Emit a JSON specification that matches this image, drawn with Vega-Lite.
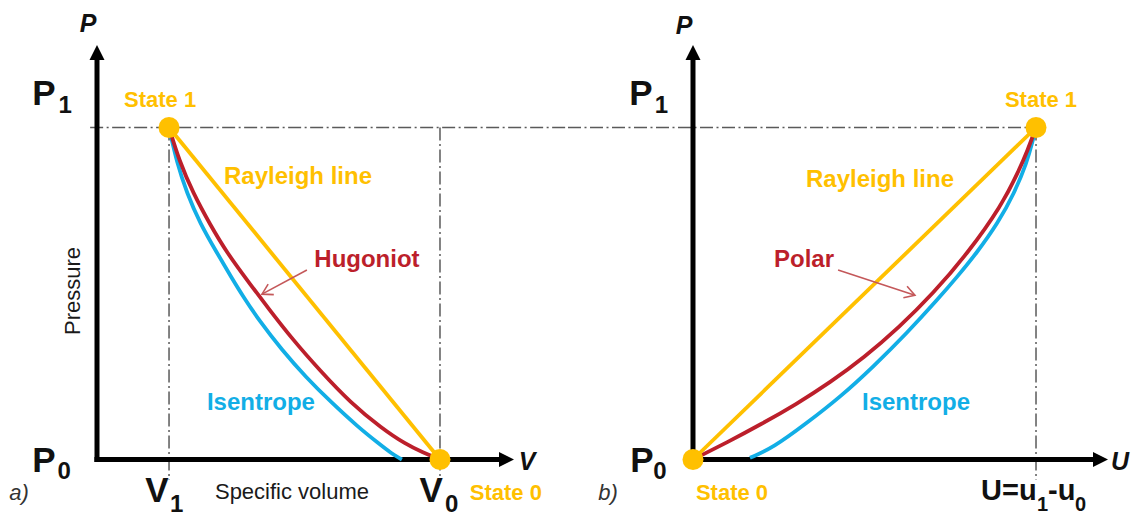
{
  "$schema": "https://vega.github.io/schema/vega-lite/v6.json",
  "background": "white",
  "padding": 0,
  "spacing": 0,
  "bounds": "flush",
  "resolve": {"scale": {"x": "independent", "y": "independent", "color": "independent"}},
  "config": {"view": {"stroke": null}, "text": {"font": "Liberation Sans"}},
  "datasets": {
    "left_guides": [
      {"v": -0.02, "p": 1, "v2": 1.3732, "p2": 1},
      {"v": 0.21, "p": 1, "v2": 0.21, "p2": -0.062},
      {"v": 1, "p": 1, "v2": 1, "p2": -0.062}
    ],
    "left_axes": [
      {"v": 0, "p": -0.0075, "v2": 0, "p2": 1.209},
      {"v": -0.0075, "p": 0, "v2": 1.181, "p2": 0}
    ],
    "left_arrowheads": [
      {"axis": "P", "v": 0, "p": 1.2485},
      {"axis": "V", "v": 1.2157, "p": 0}
    ],
    "left_curves": [
      {"curve": "Isentrope", "v": 0.21, "p": 1},
      {"curve": "Isentrope", "v": 0.233, "p": 0.893},
      {"curve": "Isentrope", "v": 0.262, "p": 0.803},
      {"curve": "Isentrope", "v": 0.3, "p": 0.712},
      {"curve": "Isentrope", "v": 0.35, "p": 0.622},
      {"curve": "Isentrope", "v": 0.391, "p": 0.55},
      {"curve": "Isentrope", "v": 0.429, "p": 0.486},
      {"curve": "Isentrope", "v": 0.472, "p": 0.42},
      {"curve": "Isentrope", "v": 0.539, "p": 0.33},
      {"curve": "Isentrope", "v": 0.609, "p": 0.248},
      {"curve": "Isentrope", "v": 0.685, "p": 0.17},
      {"curve": "Isentrope", "v": 0.761, "p": 0.098},
      {"curve": "Isentrope", "v": 0.819, "p": 0.05},
      {"curve": "Isentrope", "v": 0.86, "p": 0.017},
      {"curve": "Isentrope", "v": 0.889, "p": 0},
      {"curve": "Hugoniot", "v": 0.21, "p": 1},
      {"curve": "Hugoniot", "v": 0.24, "p": 0.899},
      {"curve": "Hugoniot", "v": 0.28, "p": 0.803},
      {"curve": "Hugoniot", "v": 0.33, "p": 0.707},
      {"curve": "Hugoniot", "v": 0.38, "p": 0.621},
      {"curve": "Hugoniot", "v": 0.44, "p": 0.537},
      {"curve": "Hugoniot", "v": 0.5, "p": 0.455},
      {"curve": "Hugoniot", "v": 0.57, "p": 0.362},
      {"curve": "Hugoniot", "v": 0.65, "p": 0.268},
      {"curve": "Hugoniot", "v": 0.74, "p": 0.17},
      {"curve": "Hugoniot", "v": 0.83, "p": 0.094},
      {"curve": "Hugoniot", "v": 0.9, "p": 0.046},
      {"curve": "Hugoniot", "v": 0.95, "p": 0.021},
      {"curve": "Hugoniot", "v": 1, "p": 0},
      {"curve": "Rayleigh line", "v": 0.21, "p": 1},
      {"curve": "Rayleigh line", "v": 1, "p": 0}
    ],
    "left_states": [
      {"state": "State 1", "v": 0.21, "p": 1},
      {"state": "State 0", "v": 1, "p": 0}
    ],
    "left_labels": [
      {"label": "Rayleigh line", "curve": "Rayleigh line", "v": 0.586, "p": 0.851},
      {"label": "Hugoniot", "curve": "Hugoniot", "v": 0.787, "p": 0.601},
      {"label": "Isentrope", "curve": "Isentrope", "v": 0.478, "p": 0.17}
    ],
    "left_state_labels": [
      {"label": "State 1", "v": 0.184, "p": 1.083},
      {"label": "State 0", "v": 1.192, "p": -0.101}
    ],
    "left_symbols": [
      {"label": "P", "v": -0.1545, "p": 1.101},
      {"label": "P", "v": -0.1545, "p": -0.0045},
      {"label": "V", "v": 0.175, "p": -0.096},
      {"label": "V", "v": 0.974, "p": -0.096}
    ],
    "left_subscripts": [
      {"label": "1", "v": -0.093, "p": 1.065},
      {"label": "0", "v": -0.096, "p": -0.038},
      {"label": "1", "v": 0.232, "p": -0.137},
      {"label": "0", "v": 1.034, "p": -0.137}
    ],
    "left_axis_names": [
      {"label": "P", "v": -0.026, "p": 1.312},
      {"label": "V", "v": 1.254, "p": -0.0075}
    ],
    "left_pointer": [
      {"v": 0.612, "p": 0.571, "v2": 0.481, "p2": 0.498}
    ],
    "left_pointer_tip": [
      {"v": 0.481, "p": 0.498}
    ],
    "left_text": [
      {"label": "Specific volume", "v": 0.5685, "p": -0.098}
    ],
    "left_ytitle": [
      {"label": "Pressure", "v": -0.07, "p": 0.5075}
    ],
    "left_tag": [
      {"label": "a)", "v": -0.227, "p": -0.101}
    ],
    "right_guides": [
      {"u": -0.3644, "p": 1, "u2": 1, "p2": 1},
      {"u": 1, "p": 1, "u2": 1, "p2": -0.062}
    ],
    "right_axes": [
      {"u": 0, "p": -0.0075, "u2": 0, "p2": 1.209},
      {"u": -0.0075, "p": 0, "u2": 1.175, "p2": 0}
    ],
    "right_arrowheads": [
      {"axis": "P", "u": 0, "p": 1.2485},
      {"axis": "U", "u": 1.2099, "p": 0}
    ],
    "right_curves": [
      {"curve": "Isentrope", "u": 0.166, "p": 0.005},
      {"curve": "Isentrope", "u": 0.233, "p": 0.035},
      {"curve": "Isentrope", "u": 0.332, "p": 0.11},
      {"curve": "Isentrope", "u": 0.429, "p": 0.188},
      {"curve": "Isentrope", "u": 0.525, "p": 0.279},
      {"curve": "Isentrope", "u": 0.624, "p": 0.381},
      {"curve": "Isentrope", "u": 0.714, "p": 0.483},
      {"curve": "Isentrope", "u": 0.77, "p": 0.55},
      {"curve": "Isentrope", "u": 0.827, "p": 0.622},
      {"curve": "Isentrope", "u": 0.889, "p": 0.712},
      {"curve": "Isentrope", "u": 0.937, "p": 0.803},
      {"curve": "Isentrope", "u": 0.973, "p": 0.893},
      {"curve": "Isentrope", "u": 0.991, "p": 0.962},
      {"curve": "Isentrope", "u": 1, "p": 1},
      {"curve": "Polar", "u": 0, "p": 0},
      {"curve": "Polar", "u": 0.1, "p": 0.052},
      {"curve": "Polar", "u": 0.2, "p": 0.107},
      {"curve": "Polar", "u": 0.3, "p": 0.166},
      {"curve": "Polar", "u": 0.4, "p": 0.232},
      {"curve": "Polar", "u": 0.5, "p": 0.308},
      {"curve": "Polar", "u": 0.6, "p": 0.397},
      {"curve": "Polar", "u": 0.7, "p": 0.5},
      {"curve": "Polar", "u": 0.8, "p": 0.62},
      {"curve": "Polar", "u": 0.9, "p": 0.765},
      {"curve": "Polar", "u": 0.95, "p": 0.87},
      {"curve": "Polar", "u": 0.975, "p": 0.93},
      {"curve": "Polar", "u": 1, "p": 1},
      {"curve": "Rayleigh line", "u": 0, "p": 0},
      {"curve": "Rayleigh line", "u": 1, "p": 1}
    ],
    "right_states": [
      {"state": "State 1", "u": 1, "p": 1},
      {"state": "State 0", "u": 0, "p": 0}
    ],
    "right_labels": [
      {"label": "Rayleigh line", "curve": "Rayleigh line", "u": 0.5452, "p": 0.842},
      {"label": "Polar", "curve": "Polar", "u": 0.3236, "p": 0.601},
      {"label": "Isentrope", "curve": "Isentrope", "u": 0.6501, "p": 0.17}
    ],
    "right_state_labels": [
      {"label": "State 1", "u": 1.0146, "p": 1.083},
      {"label": "State 0", "u": 0.1137, "p": -0.101}
    ],
    "right_symbols": [
      {"label": "P", "u": -0.1516, "p": 1.101},
      {"label": "P", "u": -0.1487, "p": -0.0045}
    ],
    "right_subscripts": [
      {"label": "1", "u": -0.0918, "p": 1.065},
      {"label": "0", "u": -0.0962, "p": -0.038}
    ],
    "right_axis_names": [
      {"label": "P", "u": -0.0262, "p": 1.306},
      {"label": "U", "u": 1.2449, "p": -0.0075}
    ],
    "right_velocity_main": [
      {"label": "U=u", "u": 0.8397, "p": -0.096},
      {"label": "-u", "u": 1.035, "p": -0.096}
    ],
    "right_velocity_sub": [
      {"label": "1", "u": 1.0029, "p": -0.137},
      {"label": "0", "u": 1.1137, "p": -0.137}
    ],
    "right_pointer": [
      {"u": 0.423, "p": 0.571, "u2": 0.647, "p2": 0.495}
    ],
    "right_pointer_tip": [
      {"u": 0.647, "p": 0.495}
    ],
    "right_tag": [
      {"label": "b)", "u": -0.2478, "p": -0.101}
    ]
  },
  "hconcat": [
    {
      "width": 568,
      "height": 519,
      "encoding": {
        "x": {"field": "v", "type": "quantitative", "scale": {"domain": [-0.2828, 1.3732], "nice": false, "zero": false}, "axis": null},
        "y": {"field": "p", "type": "quantitative", "scale": {"domain": [-0.1792, 1.384], "nice": false, "zero": false}, "axis": null}
      },
      "layer": [
        {"data": {"name": "left_guides"}, "mark": {"type": "rule", "stroke": "#5a5a5a", "strokeWidth": 1.5, "strokeDash": [13, 3.5, 2, 3.5]}, "encoding": {"x2": {"field": "v2"}, "y2": {"field": "p2"}}},
        {"data": {"name": "left_axes"}, "mark": {"type": "rule", "stroke": "#000000", "strokeWidth": 5}, "encoding": {"x2": {"field": "v2"}, "y2": {"field": "p2"}}},
        {"data": {"name": "left_arrowheads"}, "transform": [{"filter": "datum.axis === 'P'"}], "mark": {"type": "point", "shape": "M0,0L1,2L-1,2Z", "filled": true, "color": "#000000", "size": 225, "opacity": 1, "angle": 0}},
        {"data": {"name": "left_arrowheads"}, "transform": [{"filter": "datum.axis === 'V'"}], "mark": {"type": "point", "shape": "M0,0L1,2L-1,2Z", "filled": true, "color": "#000000", "size": 225, "opacity": 1, "angle": 90}},
        {"data": {"name": "left_curves"}, "mark": {"type": "line", "interpolate": "basis", "strokeWidth": 3.8},
         "encoding": {"color": {"field": "curve", "type": "nominal", "scale": {"domain": ["Rayleigh line", "Hugoniot", "Polar", "Isentrope"], "range": ["#FFC000", "#BC1F2B", "#BC1F2B", "#12AEE6"]}, "legend": null}}},
        {"data": {"name": "left_states"}, "mark": {"type": "point", "shape": "circle", "filled": true, "color": "#FFC000", "size": 441, "opacity": 1}},
        {"data": {"name": "left_pointer"}, "mark": {"type": "rule", "stroke": "#C4585A", "strokeWidth": 1.6}, "encoding": {"x2": {"field": "v2"}, "y2": {"field": "p2"}}},
        {"data": {"name": "left_pointer_tip"}, "mark": {"type": "point", "shape": "M-1.7,-1L0,0L-1.7,1", "filled": false, "stroke": "#C4585A", "strokeWidth": 1.6, "size": 144, "opacity": 1, "angle": 152}},
        {"data": {"name": "left_labels"}, "mark": {"type": "text", "fontSize": 24, "fontWeight": "bold", "align": "center", "baseline": "middle"},
         "encoding": {"text": {"field": "label"}, "color": {"field": "curve", "type": "nominal", "scale": {"domain": ["Rayleigh line", "Hugoniot", "Polar", "Isentrope"], "range": ["#FFC000", "#BC1F2B", "#BC1F2B", "#12AEE6"]}, "legend": null}}},
        {"data": {"name": "left_state_labels"}, "mark": {"type": "text", "fontSize": 22, "fontWeight": "bold", "align": "center", "baseline": "middle", "color": "#FFC000"}, "encoding": {"text": {"field": "label"}}},
        {"data": {"name": "left_symbols"}, "mark": {"type": "text", "fontSize": 35, "fontWeight": "bold", "align": "center", "baseline": "middle", "color": "#111111"}, "encoding": {"text": {"field": "label"}}},
        {"data": {"name": "left_subscripts"}, "mark": {"type": "text", "fontSize": 24, "fontWeight": "bold", "align": "center", "baseline": "middle", "color": "#111111"}, "encoding": {"text": {"field": "label"}}},
        {"data": {"name": "left_axis_names"}, "mark": {"type": "text", "fontSize": 25, "fontWeight": "bold", "fontStyle": "italic", "align": "center", "baseline": "middle", "color": "#111111"}, "encoding": {"text": {"field": "label"}}},
        {"data": {"name": "left_text"}, "mark": {"type": "text", "fontSize": 22, "align": "center", "baseline": "middle", "color": "#1a1a1a"}, "encoding": {"text": {"field": "label"}}},
        {"data": {"name": "left_ytitle"}, "mark": {"type": "text", "fontSize": 22, "angle": 270, "align": "center", "baseline": "middle", "color": "#1a1a1a"}, "encoding": {"text": {"field": "label"}}},
        {"data": {"name": "left_tag"}, "mark": {"type": "text", "fontSize": 22, "fontStyle": "italic", "align": "center", "baseline": "middle", "color": "#333333"}, "encoding": {"text": {"field": "label"}}}
      ]
    },
    {
      "width": 568,
      "height": 519,
      "encoding": {
        "x": {"field": "u", "type": "quantitative", "scale": {"domain": [-0.3644, 1.2915], "nice": false, "zero": false}, "axis": null},
        "y": {"field": "p", "type": "quantitative", "scale": {"domain": [-0.1792, 1.384], "nice": false, "zero": false}, "axis": null}
      },
      "layer": [
        {"data": {"name": "right_guides"}, "mark": {"type": "rule", "stroke": "#5a5a5a", "strokeWidth": 1.5, "strokeDash": [13, 3.5, 2, 3.5]}, "encoding": {"x2": {"field": "u2"}, "y2": {"field": "p2"}}},
        {"data": {"name": "right_axes"}, "mark": {"type": "rule", "stroke": "#000000", "strokeWidth": 5}, "encoding": {"x2": {"field": "u2"}, "y2": {"field": "p2"}}},
        {"data": {"name": "right_arrowheads"}, "transform": [{"filter": "datum.axis === 'P'"}], "mark": {"type": "point", "shape": "M0,0L1,2L-1,2Z", "filled": true, "color": "#000000", "size": 225, "opacity": 1, "angle": 0}},
        {"data": {"name": "right_arrowheads"}, "transform": [{"filter": "datum.axis === 'U'"}], "mark": {"type": "point", "shape": "M0,0L1,2L-1,2Z", "filled": true, "color": "#000000", "size": 225, "opacity": 1, "angle": 90}},
        {"data": {"name": "right_curves"}, "mark": {"type": "line", "interpolate": "basis", "strokeWidth": 3.8},
         "encoding": {"color": {"field": "curve", "type": "nominal", "scale": {"domain": ["Rayleigh line", "Hugoniot", "Polar", "Isentrope"], "range": ["#FFC000", "#BC1F2B", "#BC1F2B", "#12AEE6"]}, "legend": null}}},
        {"data": {"name": "right_states"}, "mark": {"type": "point", "shape": "circle", "filled": true, "color": "#FFC000", "size": 441, "opacity": 1}},
        {"data": {"name": "right_pointer"}, "mark": {"type": "rule", "stroke": "#C4585A", "strokeWidth": 1.6}, "encoding": {"x2": {"field": "u2"}, "y2": {"field": "p2"}}},
        {"data": {"name": "right_pointer_tip"}, "mark": {"type": "point", "shape": "M-1.7,-1L0,0L-1.7,1", "filled": false, "stroke": "#C4585A", "strokeWidth": 1.6, "size": 144, "opacity": 1, "angle": 18}},
        {"data": {"name": "right_labels"}, "mark": {"type": "text", "fontSize": 24, "fontWeight": "bold", "align": "center", "baseline": "middle"},
         "encoding": {"text": {"field": "label"}, "color": {"field": "curve", "type": "nominal", "scale": {"domain": ["Rayleigh line", "Hugoniot", "Polar", "Isentrope"], "range": ["#FFC000", "#BC1F2B", "#BC1F2B", "#12AEE6"]}, "legend": null}}},
        {"data": {"name": "right_state_labels"}, "mark": {"type": "text", "fontSize": 22, "fontWeight": "bold", "align": "center", "baseline": "middle", "color": "#FFC000"}, "encoding": {"text": {"field": "label"}}},
        {"data": {"name": "right_symbols"}, "mark": {"type": "text", "fontSize": 35, "fontWeight": "bold", "align": "center", "baseline": "middle", "color": "#111111"}, "encoding": {"text": {"field": "label"}}},
        {"data": {"name": "right_subscripts"}, "mark": {"type": "text", "fontSize": 24, "fontWeight": "bold", "align": "center", "baseline": "middle", "color": "#111111"}, "encoding": {"text": {"field": "label"}}},
        {"data": {"name": "right_axis_names"}, "mark": {"type": "text", "fontSize": 25, "fontWeight": "bold", "fontStyle": "italic", "align": "center", "baseline": "middle", "color": "#111111"}, "encoding": {"text": {"field": "label"}}},
        {"data": {"name": "right_velocity_main"}, "mark": {"type": "text", "fontSize": 29, "fontWeight": "bold", "align": "left", "baseline": "middle", "color": "#111111"}, "encoding": {"text": {"field": "label"}}},
        {"data": {"name": "right_velocity_sub"}, "mark": {"type": "text", "fontSize": 20, "fontWeight": "bold", "align": "left", "baseline": "middle", "color": "#111111"}, "encoding": {"text": {"field": "label"}}},
        {"data": {"name": "right_tag"}, "mark": {"type": "text", "fontSize": 22, "fontStyle": "italic", "align": "center", "baseline": "middle", "color": "#333333"}, "encoding": {"text": {"field": "label"}}}
      ]
    }
  ]
}
